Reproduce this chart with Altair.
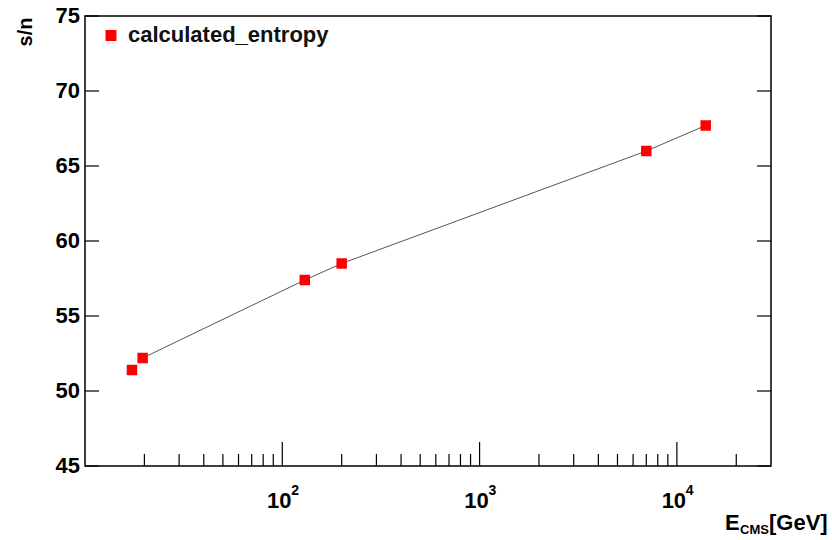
import altair as alt
import pandas as pd

# ---- data ----
energy = [17.3, 19.6, 130, 200, 7000, 14000]          # E_CMS [GeV]
entropy = [51.4, 52.2, 57.4, 58.5, 66.0, 67.7]        # s/n
on_line = [False, True, True, True, True, True]       # first point is not joined by the line

x_major = [100, 1000, 10000]
x_exp = ["2", "3", "4"]
x_minor = [20, 30, 40, 50, 60, 70, 80, 90,
           200, 300, 400, 500, 600, 700, 800, 900,
           2000, 3000, 4000, 5000, 6000, 7000, 8000, 9000,
           20000]
y_ticks = [45, 50, 55, 60, 65, 70, 75]
legend_label = ["calculated_entropy"]

FONT = "Liberation Sans"
W, H = 686, 450

df = pd.DataFrame({"E": energy, "s": entropy, "on": on_line})
df_line = df[df["on"]]
df_major = pd.DataFrame({"v": x_major, "exp": x_exp, "base": ["10"] * len(x_major)})
df_minor = pd.DataFrame({"v": x_minor})
df_y = pd.DataFrame({"v": y_ticks, "lab": [str(v) for v in y_ticks]})
df_leg = pd.DataFrame({"t": legend_label})

xs = alt.Scale(type="log", domain=[10, 30000], nice=False)
ys = alt.Scale(domain=[45, 75], nice=False, zero=False)

line = alt.Chart(df_line).mark_line(color="#555555", strokeWidth=1).encode(
    x=alt.X("E:Q", scale=xs, axis=None),
    y=alt.Y("s:Q", scale=ys, axis=None),
)
points = alt.Chart(df).mark_square(color="#ff0000", size=110, opacity=1).encode(
    x=alt.X("E:Q", scale=xs, axis=None),
    y=alt.Y("s:Q", scale=ys, axis=None),
)

major_ticks = alt.Chart(df_major).mark_rule(color="black", strokeWidth=1.2).encode(
    x=alt.X("v:Q", scale=xs, axis=None),
    y=alt.value(H), y2=alt.value(H - 24),
)
minor_ticks = alt.Chart(df_minor).mark_rule(color="black", strokeWidth=1.2).encode(
    x=alt.X("v:Q", scale=xs, axis=None),
    y=alt.value(H), y2=alt.value(H - 12),
)
x_base = alt.Chart(df_major).mark_text(
    font=FONT, fontSize=22, fontWeight="bold", align="center", baseline="alphabetic", dx=-3
).encode(
    x=alt.X("v:Q", scale=xs, axis=None), y=alt.value(H + 42), text="base:N"
)
x_sup = alt.Chart(df_major).mark_text(
    font=FONT, fontSize=14, fontWeight="bold", align="left", baseline="alphabetic", dx=9
).encode(
    x=alt.X("v:Q", scale=xs, axis=None), y=alt.value(H + 29), text="exp:N"
)

y_left = alt.Chart(df_y).mark_rule(color="black", strokeWidth=1.2).encode(
    y=alt.Y("v:Q", scale=ys, axis=None), x=alt.value(0), x2=alt.value(14)
)
y_right = alt.Chart(df_y).mark_rule(color="black", strokeWidth=1.2).encode(
    y=alt.Y("v:Q", scale=ys, axis=None), x=alt.value(W - 14), x2=alt.value(W)
)
y_labels = alt.Chart(df_y).mark_text(
    font=FONT, fontSize=22, fontWeight="bold", align="right", baseline="middle"
).encode(
    y=alt.Y("v:Q", scale=ys, axis=None), x=alt.value(-5), text="lab:N"
)

leg_sq = alt.Chart(df_leg).mark_square(color="#ff0000", size=120, opacity=1).encode(
    x=alt.value(26), y=alt.value(19.5)
)
leg_txt = alt.Chart(df_leg).mark_text(
    font=FONT, fontSize=22, fontWeight="bold", align="left", baseline="middle", color="#111"
).encode(x=alt.value(43), y=alt.value(18.5), text="t:N")

y_title = alt.Chart(df_leg).mark_text(
    font=FONT, fontSize=20, fontWeight="bold", align="center", baseline="middle", angle=270,
    text="s/n"
).encode(x=alt.value(-59), y=alt.value(16))

t_E = alt.Chart(df_leg).mark_text(
    font=FONT, fontSize=22, fontWeight="bold", align="left", baseline="alphabetic", text="E"
).encode(x=alt.value(640), y=alt.value(514))
t_CMS = alt.Chart(df_leg).mark_text(
    font=FONT, fontSize=13, fontWeight="bold", align="left", baseline="alphabetic", text="CMS"
).encode(x=alt.value(655), y=alt.value(518))
t_GeV = alt.Chart(df_leg).mark_text(
    font=FONT, fontSize=22, fontWeight="bold", align="left", baseline="alphabetic", text="[GeV]"
).encode(x=alt.value(684), y=alt.value(514))

chart = alt.layer(
    line, points, major_ticks, minor_ticks, x_base, x_sup,
    y_left, y_right, y_labels, leg_sq, leg_txt, y_title, t_E, t_CMS, t_GeV
).properties(
    width=W, height=H,
    autosize=alt.AutoSizeParams(type="none"),
    padding={"left": 85, "top": 16, "right": 61, "bottom": 74},
    background="white",
).configure_view(stroke="black", strokeWidth=1.5)

chart.save("out.html", embed_options={"renderer": "svg", "actions": False})
